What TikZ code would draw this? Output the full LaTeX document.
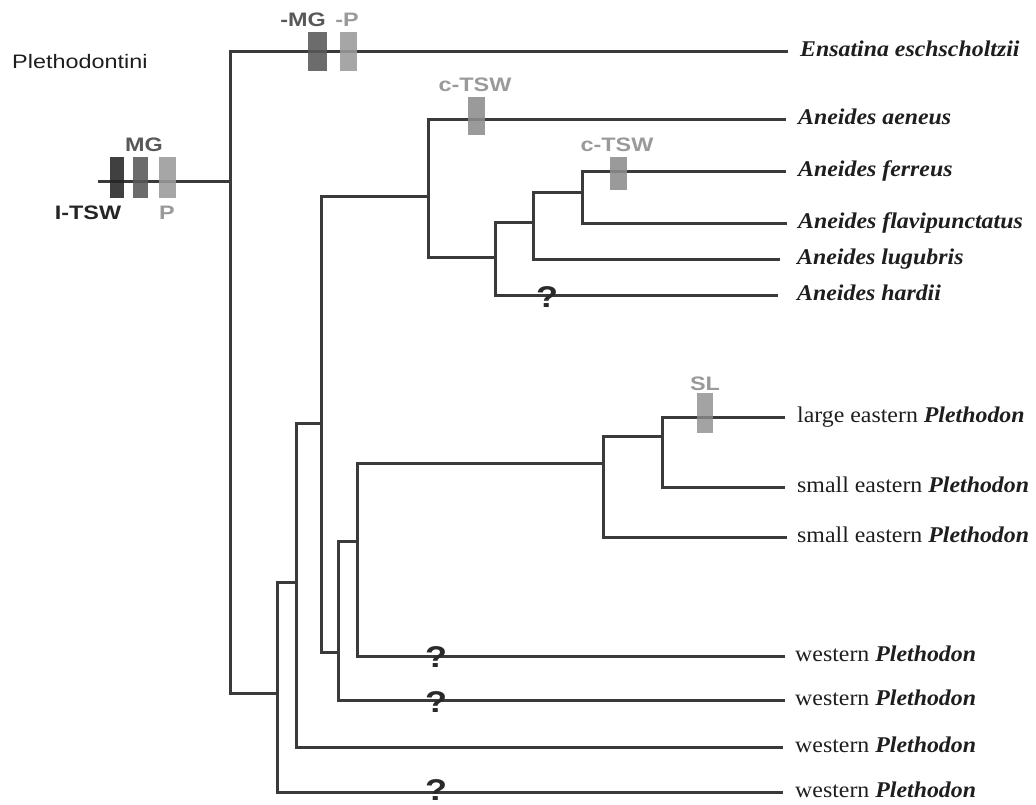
\documentclass[tikz,border=0pt]{standalone}
\usepackage{fontspec}
\setmainfont{Liberation Serif}
\newfontfamily\taxfont[FakeStretch=1.06]{Liberation Serif}
\newfontfamily\labfont[FakeStretch=1.2]{Liberation Sans}
\definecolor{branchc}{HTML}{3A3A3A}
\definecolor{txt}{HTML}{1E1E1E}
\definecolor{mblack}{HTML}{252525}
\definecolor{mdark}{HTML}{585858}
\definecolor{mlight}{HTML}{9A9A9A}
\definecolor{mmid}{HTML}{8C8C8C}
\definecolor{qmc}{HTML}{2A2A2A}
\begin{document}
\begin{tikzpicture}[x=1pt,y=1pt,
  br/.style={draw=branchc,line width=3pt,line join=miter},
  taxon/.style={anchor=west,inner sep=0pt,text height=15pt,text depth=5pt,text=txt,font=\taxfont\fontsize{22.5}{26}\selectfont},
  mk/.style={draw=none,inner sep=0pt,fill opacity=0.88},
  mklab/.style={anchor=base,inner sep=0pt,font=\labfont\bfseries\fontsize{19.5}{22}\selectfont},
  qm/.style={anchor=base,inner sep=0pt,text=qmc,font=\labfont\bfseries\fontsize{30}{32}\selectfont}]
\useasboundingbox (0,0) rectangle (1036,-805);

% title
\node[anchor=base west,inner sep=0pt,text=txt,font=\labfont\fontsize{19.5}{22}\selectfont] (title) at (12,-69) {Plethodontini};

% leaves
\node[taxon] (ens) at (800,-52) {\bfseries\itshape Ensatina eschscholtzii};
\node[taxon] (aen) at (798,-120) {\bfseries\itshape Aneides aeneus};
\node[taxon] (fer) at (798,-172) {\bfseries\itshape Aneides ferreus};
\node[taxon] (fla) at (798,-224) {\bfseries\itshape Aneides flavipunctatus};
\node[taxon] (lug) at (797,-259) {\bfseries\itshape Aneides lugubris};
\node[taxon] (har) at (797,-295) {\bfseries\itshape Aneides hardii};
\node[taxon] (lep) at (797,-417) {large eastern \textbf{\textit{Plethodon}}};
\node[taxon] (sep1) at (797,-487) {small eastern \textbf{\textit{Plethodon}}};
\node[taxon] (sep2) at (797,-537) {small eastern \textbf{\textit{Plethodon}}};
\node[taxon] (wp1) at (795,-656) {western \textbf{\textit{Plethodon}}};
\node[taxon] (wp2) at (795,-700) {western \textbf{\textit{Plethodon}}};
\node[taxon] (wp3) at (795,-747) {western \textbf{\textit{Plethodon}}};
\node[taxon] (wp4) at (795,-792) {western \textbf{\textit{Plethodon}}};

% internal nodes
\coordinate (stem) at (98,-182);
\coordinate (R) at (230,-182);
\coordinate (N1) at (277,-693);
\coordinate (N2) at (296,-582);
\coordinate (N3) at (321,-423);
\coordinate (A) at (428,-197);
\coordinate (A2) at (495,-257);
\coordinate (A3) at (533,-223);
\coordinate (A4) at (582,-193);
\coordinate (N4) at (338,-652);
\coordinate (N5) at (357,-541);
\coordinate (E) at (603,-463);
\coordinate (E2) at (662,-436);

% mark positions
\coordinate (itsw) at (116.5,-177.5);
\coordinate (mg) at (140.5,-177.5);
\coordinate (p) at (167,-177.5);
\coordinate (nmg) at (317,-51.5);
\coordinate (np) at (348.5,-51.5);
\coordinate (ct1) at (476.5,-116);
\coordinate (ct2) at (618.5,-173.5);
\coordinate (sl) at (705,-413);

% branches
\draw[br] (stem) -- (R);
\draw[br] ([xshift=-12pt]ens.west) -| (R) |- (N1);
\draw[br] (N2) -| (N1) |- ([xshift=-12pt]wp4.west);
\draw[br] (N3) -| (N2) |- ([xshift=-12pt]wp3.west);
\draw[br] (A) -| (N3) |- (N4);
\draw[br] ([xshift=-12pt]aen.west) -| (A) |- (A2);
\draw[br] (A3) -| (A2) |- ([xshift=-19pt]har.west);
\draw[br] (A4) -| (A3) |- ([xshift=-17pt]lug.west);
\draw[br] ([xshift=-12pt]fer.west) -| (A4) |- ([xshift=-11pt]fla.west);
\draw[br] (N5) -| (N4) |- ([xshift=-10pt]wp2.west);
\draw[br] (E) -| (N5) |- ([xshift=-10pt]wp1.west);
\draw[br] (E2) -| (E) |- ([xshift=-10pt]sep2.west);
\draw[br] ([xshift=-12pt]lep.west) -| (E2) |- ([xshift=-12pt]sep1.west);

% marks drawn over branches
\node[mk,fill=mblack,minimum width=14pt,minimum height=41pt] (bitsw) at (itsw) {};
\node[mk,fill=mdark,minimum width=15pt,minimum height=41pt] (bmg) at (mg) {};
\node[mk,fill=mlight,minimum width=17pt,minimum height=41pt] (bp) at (p) {};
\node[mk,fill=mdark,minimum width=19pt,minimum height=39pt] (bnmg) at (nmg) {};
\node[mk,fill=mlight,minimum width=17pt,minimum height=39pt] (bnp) at (np) {};
\node[mk,fill=mmid,minimum width=17pt,minimum height=38pt] (bct1) at (ct1) {};
\node[mk,fill=mmid,minimum width=17pt,minimum height=33pt] (bct2) at (ct2) {};
\node[mk,fill=mmid,fill opacity=0.8,minimum width=16pt,minimum height=40pt] (bsl) at (sl) {};

% mark labels
\node[mklab,text=mdark] (lmg) at (144,-152) {MG};
\node[mklab,text=mblack] (litsw) at (88,-220) {I-TSW};
\node[mklab,text=mlight] (lp) at (167,-220) {P};
\node[mklab,text=mdark] (lnmg) at (303,-27) {-MG};
\node[mklab,text=mlight] (lnp) at (347,-27) {-P};
\node[mklab,text=mlight] (lct1) at (475,-92) {c-TSW};
\node[mklab,text=mlight] (lct2) at (617,-152) {c-TSW};
\node[mklab,text=mlight] (lsl) at (705,-390) {SL};

% question marks
\node[qm] (q1) at (547,-307) {?};
\node[qm] (q2) at (436,-667) {?};
\node[qm] (q3) at (436,-712) {?};
\node[qm] (q4) at (436,-800) {?};
\end{tikzpicture}
\end{document}
